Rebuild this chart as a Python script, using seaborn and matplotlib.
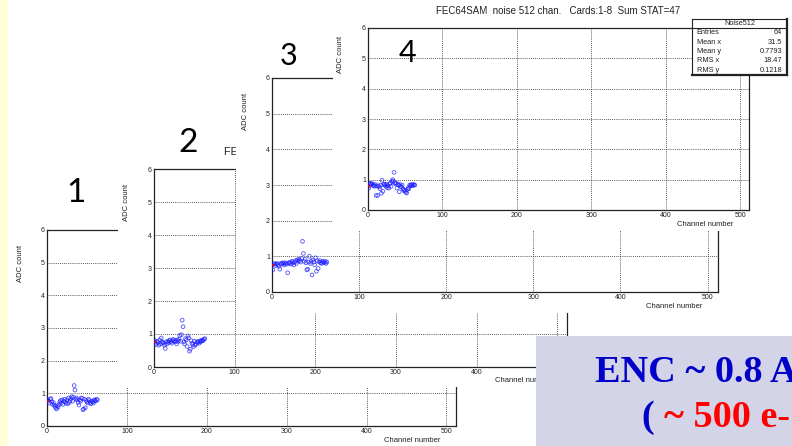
import numpy as np
import pandas as pd
import matplotlib.pyplot as plt
import seaborn as sns
from matplotlib.ticker import MultipleLocator

W, H = 792, 446

channels = list(range(64))
card1 = [0.78, 0.80, 0.76, 0.70, 0.82, 0.84, 0.74, 0.66, 0.72, 0.64, 0.60, 0.56, 0.52, 0.62, 0.58, 0.66,
         0.74, 0.78, 0.70, 0.80, 0.66, 0.76, 0.82, 0.74, 0.70, 0.80, 0.68, 0.86, 0.72, 0.78, 0.84, 0.90,
         0.76, 0.88, 1.24, 1.10, 0.82, 0.86, 0.80, 0.72, 0.64, 0.80, 0.76, 0.86, 0.84, 0.50, 0.52, 0.82,
         0.56, 0.78, 0.74, 0.70, 0.82, 0.78, 0.72, 0.68, 0.76, 0.74, 0.70, 0.80, 0.78, 0.76, 0.82, 0.80]
card2 = [0.76, 0.80, 0.72, 0.68, 0.78, 0.74, 0.66, 0.82, 0.70, 0.88, 0.76, 0.74, 0.72, 0.66, 0.56, 0.76,
         0.70, 0.78, 0.74, 0.80, 0.82, 0.76, 0.72, 0.80, 0.84, 0.78, 0.80, 0.76, 0.70, 0.82, 0.78, 0.84,
         0.96, 0.78, 0.98, 1.42, 1.22, 0.76, 0.70, 0.86, 0.82, 0.62, 0.94, 0.88, 0.48, 0.54, 0.80, 0.72,
         0.68, 0.62, 0.78, 0.66, 0.70, 0.76, 0.74, 0.78, 0.72, 0.76, 0.80, 0.78, 0.82, 0.80, 0.84, 0.86]
card3 = [0.76, 0.62, 0.78, 0.80, 0.74, 0.78, 0.80, 0.76, 0.72, 0.64, 0.80, 0.78, 0.82, 0.80, 0.76, 0.82,
         0.80, 0.78, 0.54, 0.82, 0.80, 0.84, 0.78, 0.86, 0.82, 0.76, 0.84, 0.88, 0.80, 0.90, 0.86, 0.92,
         0.88, 0.84, 0.94, 1.42, 1.08, 0.86, 0.92, 0.82, 0.62, 0.64, 0.84, 1.00, 0.80, 0.86, 0.48, 0.90,
         0.84, 0.76, 0.96, 0.58, 0.88, 0.66, 0.84, 0.88, 0.82, 0.80, 0.86, 0.84, 0.82, 0.86, 0.80, 0.84]
card4 = [0.78, 0.72, 0.85, 0.88, 0.86, 0.84, 0.87, 0.80, 0.82, 0.78, 0.84, 0.48, 0.79, 0.48, 0.80, 0.76,
         0.70, 0.82, 0.55, 0.98, 0.62, 0.84, 0.86, 0.82, 0.78, 0.85, 0.74, 0.80, 0.72, 0.86, 0.88, 0.78,
         0.94, 1.00, 0.96, 1.24, 0.90, 0.86, 0.88, 0.72, 0.84, 0.82, 0.60, 0.84, 0.78, 0.76, 0.82, 0.70,
         0.64, 0.66, 0.62, 0.58, 0.56, 0.68, 0.74, 0.70, 0.82, 0.80, 0.84, 0.82, 0.80, 0.84, 0.83, 0.82]

x_ticks = [0, 100, 200, 300, 400, 500]
y_ticks = [0, 1, 2, 3, 4, 5, 6]
title = "FEC64SAM  noise 512 chan.   Cards:1-8  Sum STAT=47"
stat_names = ["Entries", "Mean x", "Mean y", "RMS x", "RMS y"]
stat_values = ["64", "31.5", "0.7793", "18.47", "0.1218"]

sns.set_style("white")
plt.rcParams['font.family'] = ['Liberation Sans', 'DejaVu Sans']

fig = plt.figure(figsize=(W / 100, H / 100), dpi=100)


def rect(l, t, r, b):
    return [l / W, 1 - b / H, (r - l) / W, (b - t) / H]


def fp(x, y):
    return x / W, 1 - y / H


def blank(box, color='white'):
    a = fig.add_axes(rect(*box))
    a.set_facecolor(color)
    a.set_xticks([])
    a.set_yticks([])
    for s in a.spines.values():
        s.set_visible(False)
    return a


def panel(vals, box, ylab_dy=33, title_fs=None):
    l, t, r, b = box
    ax = fig.add_axes(rect(*box))
    df = pd.DataFrame({'ch': channels, 'adc': vals})
    sns.scatterplot(data=df, x='ch', y='adc', ax=ax, marker='o', s=7, color='none',
                    edgecolor='#1a1aff', linewidth=0.6, alpha=0.75, zorder=3)
    ax.plot(channels[0], vals[0], marker='_', color='red', ms=3, mew=1.2, zorder=4)
    ax.set_xlim(0, 512)
    ax.set_ylim(0, 6)
    ax.set_xticks(x_ticks)
    ax.set_yticks(y_ticks)
    ax.xaxis.set_minor_locator(MultipleLocator(20))
    ax.yaxis.set_minor_locator(MultipleLocator(0.2))
    ax.tick_params(which='both', direction='in', colors='#222', labelsize=5, pad=1.5, width=0.8)
    ax.tick_params(axis='y', which='major', length=5)
    ax.tick_params(axis='y', which='minor', length=3)
    ax.tick_params(axis='x', which='major', length=4)
    ax.tick_params(axis='x', which='minor', length=2)
    ax.set_axisbelow(True)
    ax.grid(True, which='major', ls=(0, (1, 1.5)), color='#222', lw=0.6)
    for s in ax.spines.values():
        s.set_color('#222')
        s.set_linewidth(0.9)
    ax.set_xlabel('')
    ax.set_ylabel('')
    ax.text(*fp(r - 16, b + 14), "Channel number", transform=fig.transFigure,
            ha='right', va='center', fontsize=5.5, color='#222')
    ax.text(*fp(l - 27, t + ylab_dy), "ADC count", transform=fig.transFigure,
            rotation=90, ha='center', va='center', fontsize=5.5, color='#222')
    if title_fs:
        ax.text(*fp((l + r) / 2, t - 16.5), title, transform=fig.transFigure,
                ha='center', va='center', fontsize=title_fs, color='#222')
    return ax


blank((0, 0, 8, 446), '#ffffd8')

panel(card1, (47, 230, 456, 426))
blank((118, 140, 578, 387))
panel(card2, (154, 169, 567, 367), title_fs=7.8)
blank((236, 62, 730, 313))
panel(card3, (272, 78, 718, 292))
blank((333, 0, 792, 231))
panel(card4, (368, 28, 749, 210), ylab_dy=26, title_fs=7)

# stats box of the top canvas
sb = blank((692, 19, 787, 75))
sb.set_xlim(0, 1)
sb.set_ylim(0, 1)
for k, s in sb.spines.items():
    s.set_visible(True)
    s.set_color('#222')
    s.set_linewidth(1.6 if k in ('right', 'bottom') else 0.8)
sb.axhline(1 - 9 / 56, color='#222', lw=0.8)
sb.text(0.5, 1 - 4.8 / 56, "Noise512", ha='center', va='center', fontsize=5.3, color='#222')
for i, (n, v) in enumerate(zip(stat_names, stat_values)):
    yy = 1 - (14 + 9.3 * i) / 56
    sb.text(0.05, yy, n, ha='left', va='center', fontsize=5.3, color='#222')
    sb.text(0.95, yy, v, ha='right', va='center', fontsize=5.3, color='#222')

# ENC box
enc = blank((536, 336, 792, 446), '#d4d4e8')
serif = dict(family=['Liberation Serif', 'DejaVu Serif'], weight='bold', fontsize=27.5,
             clip_on=True, va='baseline', ha='left')
enc.text(*fp(595, 382), "ENC ~ 0.8 A", color='#0000c8', transform=fig.transFigure, **serif)

renderer = fig.canvas.get_renderer()
x0 = 642
for part, col in [("( ", '#0000c8'), ("~ 500 e-", '#ff0000'), (")", '#0000c8')]:
    t = enc.text(*fp(x0, 427), part, color=col, transform=fig.transFigure, **serif)
    bb = t.get_window_extent(renderer)
    x0 = x0 + bb.width

# slide numbering
for lab, x, y, fs in [("1", 76, 202, 24), ("2", 188, 152, 24), ("3", 289, 65, 22), ("4", 407, 62, 22)]:
    fig.text(*fp(x, y), lab, ha='center', va='baseline', fontsize=fs,
             family=['Lato', 'DejaVu Sans'], color='black')

fig.savefig("out.png", dpi=100)
